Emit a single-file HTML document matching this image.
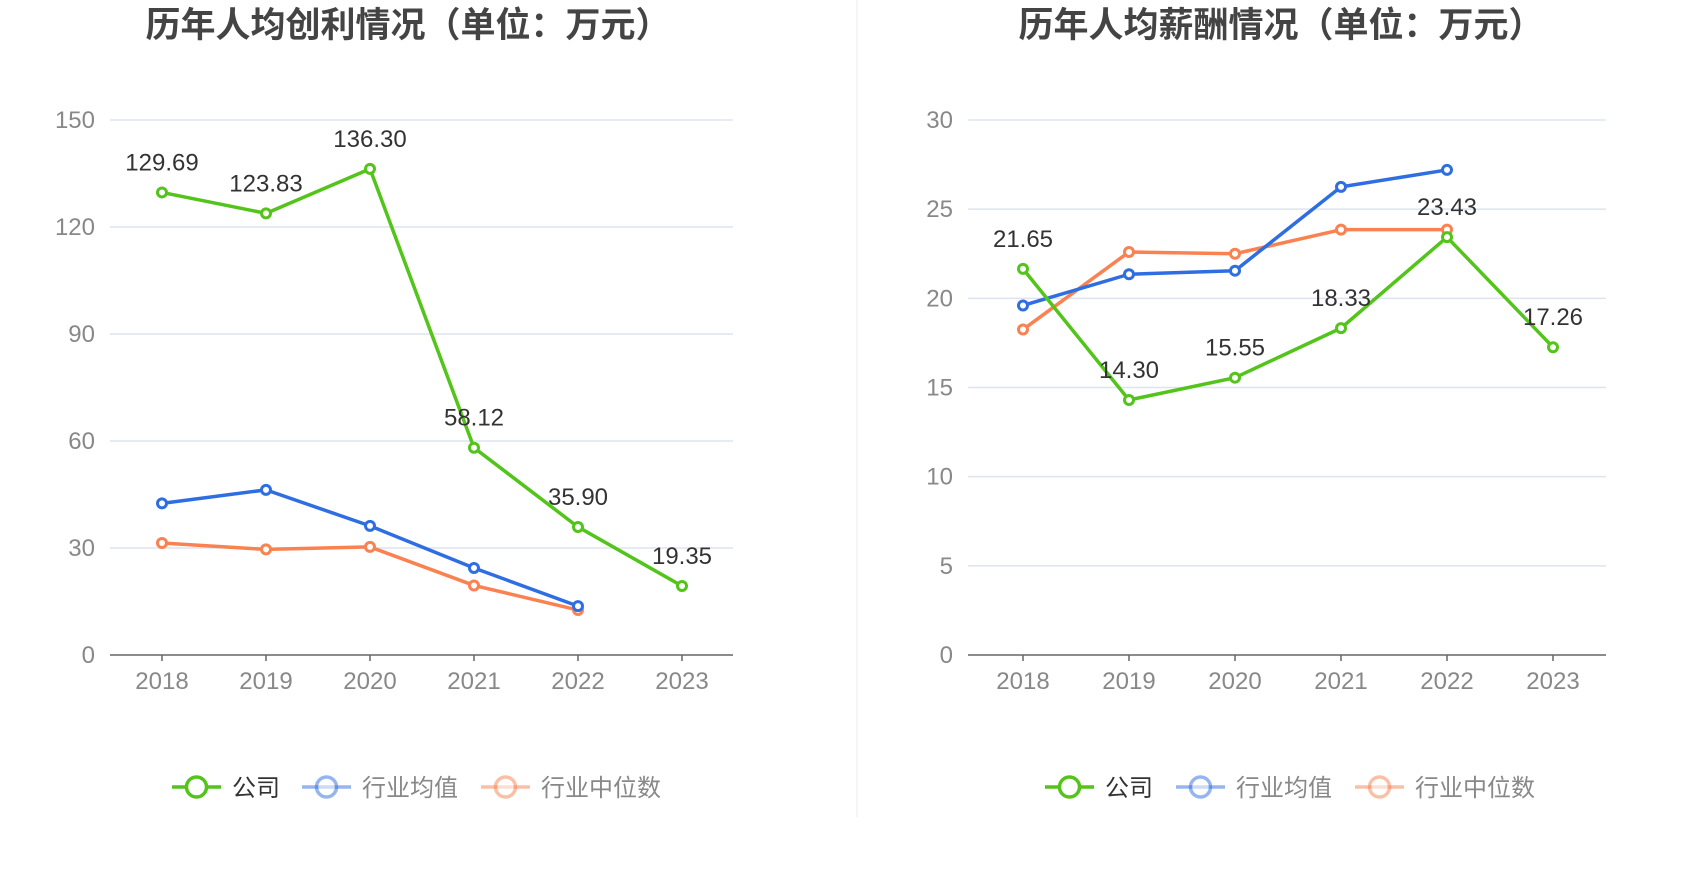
<!DOCTYPE html>
<html><head><meta charset="utf-8"><style>
body{margin:0;background:#fff;width:1700px;height:874px;overflow:hidden;font-family:"Liberation Sans","Noto Sans CJK SC",sans-serif}
svg text{font-family:"Liberation Sans","Noto Sans CJK SC",sans-serif}
</style></head><body>
<svg id="svg" width="1700" height="874">
<line x1="857" y1="0" x2="857" y2="817" stroke="#eee" stroke-width="1"/>
</svg>
<script>
const years=["2018","2019","2020","2021","2022","2023"];
const profitCompany=[129.69,123.83,136.30,58.12,35.90,19.35];
const profitAvg=[42.5,46.3,36.2,24.4,13.7];
const profitMedian=[31.4,29.6,30.3,19.5,12.6];
const profitTicks=[0,30,60,90,120,150];
const salaryCompany=[21.65,14.30,15.55,18.33,23.43,17.26];
const salaryAvg=[19.6,21.35,21.55,26.25,27.2];
const salaryMedian=[18.25,22.6,22.5,23.85,23.85];
const salaryTicks=[0,5,10,15,20,25,30];
const NS="http://www.w3.org/2000/svg";
const svg=document.getElementById('svg');
function mk(tag,attrs,parent){const e=document.createElementNS(NS,tag);for(const k in attrs)e.setAttribute(k,attrs[k]);(parent||svg).appendChild(e);return e;}
function chart(cfg){
 const g=mk('g',{});
 
 
 const maxV=cfg.ticks[cfg.ticks.length-1];
 const yS=v=>cfg.y0-(v/maxV)*(cfg.y0-cfg.y1);
 const xS=i=>cfg.xa+i*(cfg.xb-cfg.xa)/(years.length-1);
 const t=mk('text',{x:cfg.tx,y:37,'text-anchor':'middle','font-size':'35','font-weight':'bold',fill:'#444'},g);
 t.textContent=cfg.title;
 
 
 cfg.ticks.forEach(v=>{
  if(v>0){const l=mk('line',{x1:cfg.gx0,x2:cfg.gx1,y1:yS(v),y2:yS(v),stroke:'#dde3ef','stroke-width':1.5},g);
  
  }
  const tl=mk('text',{x:cfg.gx0-15,y:yS(v)+8,'text-anchor':'end','font-size':'24',fill:'#888'},g);
  tl.textContent=v;
  
  
 });
 const ax=mk('line',{x1:cfg.gx0,x2:cfg.gx1,y1:cfg.y0,y2:cfg.y0,stroke:'#666','stroke-width':1.5},g);
 
 
 years.forEach((yr,i)=>{
  const tk=mk('line',{x1:xS(i),x2:xS(i),y1:cfg.y0,y2:cfg.y0+6,stroke:'#666','stroke-width':1.5},g);
  
  
  const tl=mk('text',{x:xS(i),y:cfg.y0+34,'text-anchor':'middle','font-size':'24',fill:'#888'},g);
  tl.textContent=yr;
  
  
 });
 const series=[[cfg.med,'#fa8150','median'],[cfg.avg,'#2f6ee2','average'],[cfg.comp,'#52c41a','company']];
 series.forEach(([d,c,n])=>{
  const p=mk('polyline',{points:d.map((v,i)=>xS(i)+','+yS(v)).join(' '),fill:'none',stroke:c,'stroke-width':3.5,'stroke-linejoin':'round'},g);
  
  
  d.forEach((v,i)=>{
   const ci=mk('circle',{cx:xS(i),cy:yS(v),r:4.5,fill:'#fff',stroke:c,'stroke-width':3},g);
   
   
  });
 });
 cfg.comp.forEach((v,i)=>{
  const tl=mk('text',{x:xS(i),y:yS(v)-22,'text-anchor':'middle','font-size':'24',fill:'#333'},g);
  tl.textContent=v.toFixed(2);
  
  
 });
 const leg=[['公司','#52c41a','#333',1],['行业均值','#2f6ee2','#888',0.5],['行业中位数','#fa8150','#888',0.5]];
 leg.forEach(([txt,c,tc,op],k)=>{
  const lg=mk('g',{opacity:1},g);
  
  
  const x=cfg.lx[k];
  mk('line',{x1:x,x2:x+49,y1:787,y2:787,stroke:c,'stroke-width':3.5,opacity:op},lg);
  mk('circle',{cx:x+24.5,cy:787,r:10,fill:'#fff',stroke:c,'stroke-width':3.5,opacity:op},lg);
  const tt=mk('text',{x:x+60,y:796,'font-size':'24',fill:tc},lg);
  tt.textContent=txt;
 });
}
chart({name:'profit-chart',title:'历年人均创利情况（单位：万元）',tx:408,ticks:profitTicks,y0:655,y1:120,xa:162,xb:682,gx0:110,gx1:733,comp:profitCompany,avg:profitAvg,med:profitMedian,lx:[172,302,481]});
chart({name:'salary-chart',title:'历年人均薪酬情况（单位：万元）',tx:1281,ticks:salaryTicks,y0:655,y1:120,xa:1023,xb:1553,gx0:968,gx1:1606,comp:salaryCompany,avg:salaryAvg,med:salaryMedian,lx:[1045,1176,1355]});
</script>
</body></html>
